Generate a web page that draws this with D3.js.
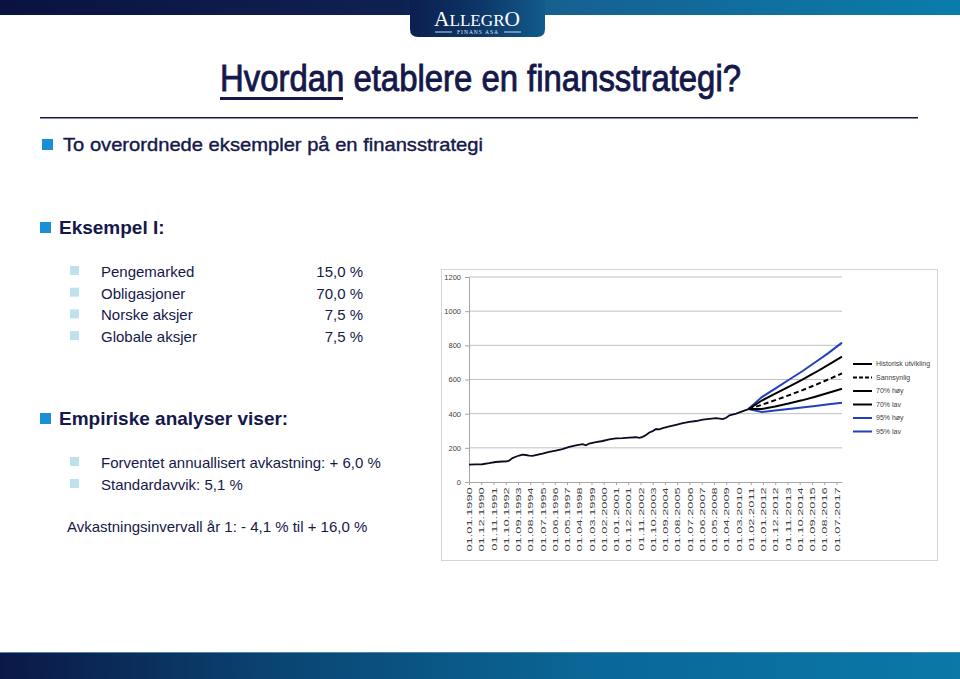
<!DOCTYPE html>
<html><head><meta charset="utf-8">
<script src="https://cdn.jsdelivr.net/npm/d3@7"></script>
<style>body{margin:0;background:#fff;} svg{display:block;}</style>
</head><body>
<svg id="c" width="960" height="679"></svg>
<script>
// ---------- data ----------
const allocationLabels = ["Pengemarked", "Obligasjoner", "Norske aksjer", "Globale aksjer"];
const allocationValues = ["15,0 %", "70,0 %", "7,5 %", "7,5 %"];
const analysisItems = ["Forventet annuallisert avkastning: + 6,0 %", "Standardavvik: 5,1 %"];
const yTicks = [0, 200, 400, 600, 800, 1000, 1200];
const xTickLabels = ["01.01.1990","01.12.1990","01.11.1991","01.10.1992","01.09.1993","01.08.1994",
  "01.07.1995","01.06.1996","01.05.1997","01.04.1998","01.03.1999","01.02.2000","01.01.2001",
  "01.12.2001","01.11.2002","01.10.2003","01.09.2004","01.08.2005","01.07.2006","01.06.2007",
  "01.05.2008","01.04.2009","01.03.2010","01.02.2011","01.01.2012","01.12.2012","01.11.2013",
  "01.10.2014","01.09.2015","01.08.2016","01.07.2017"];
const histDates = ["1990-01","1990-07","1991-01","1991-07","1992-01","1992-07","1992-11","1993-01",
  "1993-04","1993-07","1993-10","1994-01","1994-04","1994-07","1994-10","1995-01","1995-07","1996-01",
  "1996-07","1997-01","1997-07","1998-01","1998-07","1998-10","1999-01","1999-07","2000-01","2000-07",
  "2001-01","2001-07","2002-01","2002-07","2002-10","2003-01","2003-04","2003-07","2003-10","2004-01",
  "2004-04","2004-07","2005-01","2005-07","2006-01","2006-07","2007-01","2007-07","2008-01","2008-07",
  "2009-01","2009-04","2009-07","2010-01","2010-07","2010-12"];
const histValues = [102,103,104,110,117,120,121,125,140,148,155,160,158,155,153,158,166,176,
  184,192,205,214,222,215,225,233,240,249,255,257,260,262,258,264,275,290,298,310,
  308,315,325,335,345,352,357,365,370,374,368,376,390,400,415,427];
const projDates = ["2010-12","2011-12","2012-12","2013-12","2014-12","2015-12","2016-12","2017-12"];
const sannsynlig = [427,452,479,507,536,568,601,636];
const high70 = [427,477,517,557,598,641,687,734];
const low70  = [427,427,442,459,478,499,522,546];
const high95 = [427,497,547,597,647,701,756,816];
const low95  = [427,410,418,427,436,445,455,464];
const legendLabels = ["Historisk utvikling","Sannsynlig","70% høy","70% lav","95% høy","95% lav"];

// ---------- helpers ----------
const svg = d3.select("#c");
const navy = "#15184a";
const toLabel = d => "01." + d.slice(5, 7) + "." + d.slice(0, 4);
const months = [];
for (let yr = 1990; yr <= 2017; yr++) for (let m = 1; m <= 12; m++)
  months.push("01." + String(m).padStart(2, "0") + "." + yr);

const defs = svg.append("defs");
function lin(id, stops, x2 = "100%", y2 = "0%") {
  const g = defs.append("linearGradient").attr("id", id).attr("x1", "0%").attr("y1", "0%").attr("x2", x2).attr("y2", y2);
  stops.forEach(s => g.append("stop").attr("offset", s[0]).attr("stop-color", s[1]));
}
lin("topbar", [[0, "#0b1240"], [0.42, "#0f2153"], [0.57, "#16608f"], [1, "#0a7dac"]]);
lin("tab", [[0, "#0c1f50"], [0.5, "#0d3566"], [1, "#115b8c"]]);
lin("botbar", [[0, "#0b1846"], [0.3, "#0a4674"], [0.6, "#0a6696"], [1, "#0a79a8"]]);

// ---------- header ----------
svg.append("rect").attr("x", 0).attr("y", 0).attr("width", 960).attr("height", 15).attr("fill", "url(#topbar)");
svg.append("path").attr("d", "M410,0 H545 V29 Q545,37 537,37 H418 Q410,37 410,29 Z").attr("fill", "url(#tab)");
const logo = svg.append("text").attr("x", 477).attr("y", 26).attr("text-anchor", "middle")
  .attr("fill", "#fff").attr("font-family", "Liberation Serif, DejaVu Serif, serif")
  .attr("textLength", 86).attr("lengthAdjust", "spacingAndGlyphs");
logo.append("tspan").attr("font-size", 20).text("A");
logo.append("tspan").attr("font-size", 16).text("LLEGR");
logo.append("tspan").attr("font-size", 20).text("O");
svg.append("text").attr("x", 478).attr("y", 34).attr("text-anchor", "middle").attr("fill", "#dfe6ee")
  .attr("font-family", "Liberation Serif, serif").attr("font-size", 5.5).attr("letter-spacing", 1).text("FINANS ASA");
[[435, 452], [504, 521]].forEach(p => svg.append("line").attr("x1", p[0]).attr("x2", p[1]).attr("y1", 32).attr("y2", 32)
  .attr("stroke", "#c9d6e4").attr("stroke-width", 1));

// ---------- title ----------
const narrow = "Liberation Sans Narrow, Arial Narrow, Liberation Sans, sans-serif";
svg.append("text").attr("x", 220).attr("y", 91).attr("fill", navy).attr("stroke", navy).attr("stroke-width", 0.9)
  .attr("font-family", narrow).attr("font-size", 37)
  .attr("textLength", 521).attr("lengthAdjust", "spacingAndGlyphs")
  .text("Hvordan etablere en finansstrategi?");
svg.append("rect").attr("x", 220).attr("y", 97).attr("width", 123).attr("height", 3).attr("fill", navy);
svg.append("rect").attr("x", 40).attr("y", 117).attr("width", 878).attr("height", 1.5).attr("fill", navy);

// ---------- bullets ----------
const blue = "#1a8fd8", light = "#bfe1eb";
svg.append("rect").attr("x", 42).attr("y", 139).attr("width", 11).attr("height", 11).attr("fill", blue);
svg.append("text").attr("x", 63).attr("y", 151).attr("fill", navy).attr("stroke", navy).attr("stroke-width", 0.4)
  .attr("font-family", narrow).attr("font-size", 19).attr("textLength", 420).attr("lengthAdjust", "spacingAndGlyphs")
  .text("To overordnede eksempler på en finansstrategi");

const arial = "Liberation Sans, Arial, sans-serif";
svg.append("rect").attr("x", 40).attr("y", 222).attr("width", 11).attr("height", 11).attr("fill", blue);
svg.append("text").attr("x", 59).attr("y", 234).attr("fill", navy).attr("font-family", arial)
  .attr("font-weight", "bold").attr("font-size", 19).text("Eksempel I:");

allocationLabels.forEach((lab, i) => {
  const yy = 277 + i * 21.7;
  svg.append("rect").attr("x", 70).attr("y", yy - 11).attr("width", 9).attr("height", 9).attr("fill", light);
  svg.append("text").attr("x", 101).attr("y", yy).attr("fill", navy).attr("font-family", arial).attr("font-size", 15).text(lab);
  svg.append("text").attr("x", 363).attr("y", yy).attr("text-anchor", "end").attr("fill", navy)
    .attr("font-family", arial).attr("font-size", 15).text(allocationValues[i]);
});

svg.append("rect").attr("x", 40).attr("y", 413).attr("width", 11).attr("height", 11).attr("fill", blue);
svg.append("text").attr("x", 59).attr("y", 425).attr("fill", navy).attr("font-family", arial)
  .attr("font-weight", "bold").attr("font-size", 19).text("Empiriske analyser viser:");

analysisItems.forEach((lab, i) => {
  const yy = 468 + i * 22;
  svg.append("rect").attr("x", 70).attr("y", yy - 11).attr("width", 9).attr("height", 9).attr("fill", light);
  svg.append("text").attr("x", 101).attr("y", yy).attr("fill", navy).attr("font-family", arial).attr("font-size", 15).text(lab);
});
svg.append("text").attr("x", 67).attr("y", 532).attr("fill", navy).attr("font-family", arial).attr("font-size", 15)
  .text("Avkastningsinvervall år 1: - 4,1 % til + 16,0 %");

// ---------- chart ----------
svg.append("rect").attr("x", 441.5).attr("y", 269.5).attr("width", 496).attr("height", 291)
  .attr("fill", "#fff").attr("stroke", "#d4d4d4");

const x = d3.scalePoint().domain(months).range([469, 842]);
const y = d3.scaleLinear().domain([0, 1200]).range([482, 277]);
const chartFont = "Liberation Sans, Arial, sans-serif";

svg.append("g").selectAll("line").data(yTicks.filter(d => d > 0)).join("line")
  .attr("x1", 469).attr("x2", 842).attr("y1", d => y(d)).attr("y2", d => y(d))
  .attr("stroke", "#bfbfbf").attr("stroke-width", 1);

const yAxis = svg.append("g").attr("transform", "translate(469,0)")
  .call(d3.axisLeft(y).tickValues(yTicks).tickFormat(d3.format("d")).tickSize(4).tickPadding(4));
yAxis.select(".domain").attr("stroke", "#a6a6a6");
yAxis.selectAll(".tick line").attr("stroke", "#a6a6a6");
yAxis.selectAll("text").attr("fill", "#404040").attr("font-family", chartFont).attr("font-size", 7.5);

const xAxis = svg.append("g").attr("transform", "translate(0,482)")
  .call(d3.axisBottom(x).tickValues(xTickLabels).tickSize(3).tickSizeOuter(0));
xAxis.select(".domain").attr("stroke", "#a6a6a6");
xAxis.selectAll(".tick line").attr("stroke", "#a6a6a6");
xAxis.selectAll("text").attr("transform", "rotate(-90) scale(1.65,1)").attr("x", -3.2).attr("y", 0).attr("dy", "0.35em")
  .style("text-anchor", "end").attr("fill", "#404040").attr("font-family", chartFont).attr("font-size", 7.8);

const line = d3.line().x(d => x(toLabel(d[0]))).y(d => y(d[1]));
const series = [
  {vals: low95, color: "#2040c0", dash: null},
  {vals: high95, color: "#2040c0", dash: null},
  {vals: low70, color: "#000", dash: null},
  {vals: high70, color: "#000", dash: null},
  {vals: sannsynlig, color: "#000", dash: "5,3"}
];
series.forEach(s => svg.append("path").datum(projDates.map((d, i) => [d, s.vals[i]]))
  .attr("d", line).attr("fill", "none").attr("stroke", s.color).attr("stroke-width", 2)
  .attr("stroke-dasharray", s.dash));
svg.append("path").datum(histDates.map((d, i) => [d, histValues[i]]))
  .attr("d", line).attr("fill", "none").attr("stroke", "#0a0a24").attr("stroke-width", 1.8);

const legStyles = [
  {color: "#000", dash: null}, {color: "#000", dash: "4,2"}, {color: "#000", dash: null},
  {color: "#000", dash: null}, {color: "#2040c0", dash: null}, {color: "#2040c0", dash: null}
];
legendLabels.forEach((lab, i) => {
  const ly = 364 + i * 13.5;
  svg.append("line").attr("x1", 853).attr("x2", 872).attr("y1", ly).attr("y2", ly)
    .attr("stroke", legStyles[i].color).attr("stroke-width", 2).attr("stroke-dasharray", legStyles[i].dash);
  svg.append("text").attr("x", 876).attr("y", ly).attr("dy", "0.35em").attr("fill", "#404040")
    .attr("font-family", chartFont).attr("font-size", 7).text(lab);
});

// ---------- bottom bar ----------
svg.append("rect").attr("x", 0).attr("y", 652).attr("width", 960).attr("height", 27).attr("fill", "url(#botbar)");
svg.append("rect").attr("x", 0).attr("y", 652).attr("width", 960).attr("height", 1).attr("fill", "#4d86ad");
</script>
</body></html>
